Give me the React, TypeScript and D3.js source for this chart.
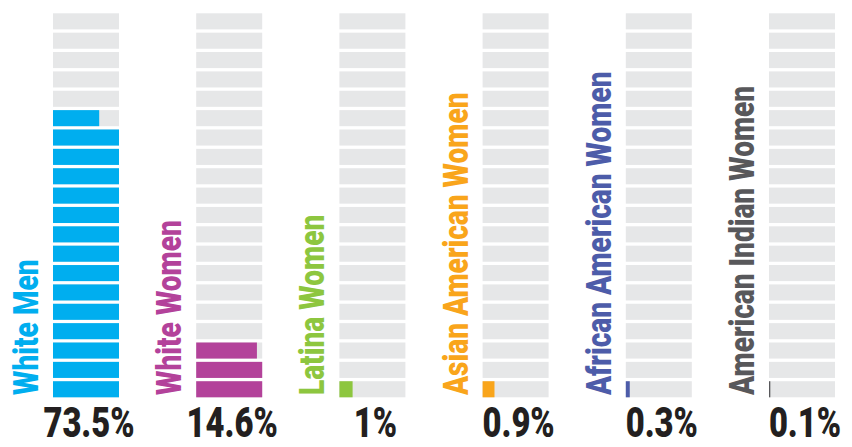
import { range, scaleBand, scaleLinear, scalePoint } from "d3";

const groups = [
  "White Men",
  "White Women",
  "Latina Women",
  "Asian American Women",
  "African American Women",
  "American Indian Women",
];
const shares = [73.5, 14.6, 1, 0.9, 0.3, 0.1];
const shareLabels = ["73.5%", "14.6%", "1%", "0.9%", "0.3%", "0.1%"];
const colors = ["#00aeef", "#b3429a", "#8dc63f", "#f9a51b", "#4d5ca9", "#58585b"];

const STEP = 5; // each row stands for 5%
const rows = range(20);

const W = 852;
const H = 447;
const barW = 66;

const x = scalePoint<string>().domain(groups).range([53, 769]);
const y = scaleBand<number>().domain(rows).range([397.3, 13.3]).paddingInner(0.17);
const fillW = scaleLinear().domain([0, STEP]).range([0, barW]);

function rowFill(total: number, row: number) {
  const v = total - row * STEP;
  return Math.max(0, Math.min(STEP, v));
}

export default function App() {
  const condensed = "Roboto, 'DejaVu Sans', sans-serif";
  return (
    <div style={{ position: "absolute", left: 0, top: 0 }}>
      <svg width={W} height={H} style={{ display: "block", background: "#fff" }}>
        {groups.map((g, i) => {
          const x0 = x(g) as number;
          return (
            <g key={g}>
              {rows.map((r) => (
                <rect
                  key={"bg" + r}
                  x={x0}
                  y={y(r)}
                  width={barW}
                  height={y.bandwidth()}
                  fill="#e6e7e8"
                />
              ))}
              {rows.map((r) => {
                const v = rowFill(shares[i], r);
                if (v <= 0) return null;
                return (
                  <rect
                    key={"fg" + r}
                    x={x0}
                    y={y(r)}
                    width={Math.max(1.2, fillW(v))}
                    height={y.bandwidth()}
                    fill={colors[i]}
                  />
                );
              })}
              <text
                transform={`translate(${x0 - 15},395) rotate(-90) scale(0.78,1)`}
                fontFamily={condensed}
                fontWeight={900}
                fontSize={36}
                fill={colors[i]}
              >
                {g}
              </text>
              <text
                transform={`translate(${x0 + barW / 2 + 3},437) scale(0.78,1)`}
                textAnchor="middle"
                fontFamily={condensed}
                fontWeight={900}
                fontSize={42}
                fill="#231f20"
              >
                {shareLabels[i]}
              </text>
            </g>
          );
        })}
      </svg>
    </div>
  );
}
